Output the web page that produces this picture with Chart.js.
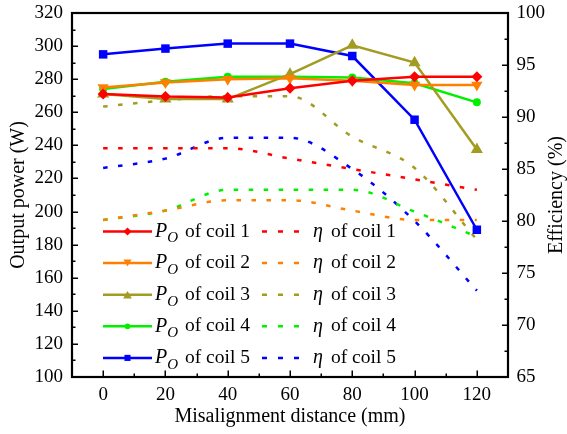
<!DOCTYPE html>
<html>
<head>
<meta charset="utf-8">
<script src="https://cdn.jsdelivr.net/npm/chart.js@4.4.1/dist/chart.umd.min.js"></script>
<style>
  html, body { margin: 0; padding: 0; background: #fff; }
  #wrap { width: 567px; height: 434px; position: relative; }
</style>
</head>
<body>
<div id="wrap"><canvas id="c" width="567" height="434"></canvas></div>
<script>
// ---- data ----
const distances = [0, 20, 40, 60, 80, 100, 120];
const xTicks = [0, 20, 40, 60, 80, 100, 120];
const coilNames = ['coil 1', 'coil 2', 'coil 3', 'coil 4', 'coil 5'];

const powerCoil1 = [271, 269.5, 269, 274.5, 279, 281.5, 281.5];
const powerCoil2 = [275, 278, 280, 280.5, 279, 276.5, 276.5];
const powerCoil3 = [271, 268, 268, 283, 300.5, 290, 237.5];
const powerCoil4 = [274, 278.5, 281.5, 281.5, 281, 277.5, 266];
const powerCoil5 = [295, 298.5, 301.5, 301.5, 294, 255.5, 189];

const effCoil1 = [87.0, 87.0, 87.0, 86.0, 85.0, 84.0, 83.0];
const effCoil2 = [80.1, 81.0, 82.0, 82.0, 81.0, 80.1, 80.1];
const effCoil3 = [91.0, 91.6, 92.0, 92.0, 88.1, 85.1, 78.2];
const effCoil4 = [80.1, 81.0, 83.0, 83.0, 83.0, 80.9, 78.5];
const effCoil5 = [85.1, 86.0, 88.0, 88.0, 85.0, 80.0, 73.3];

const colors = ['#FF0000', '#FF8000', '#A29C22', '#00F000', '#0000FF'];
const pointStyles = ['rectRot', 'triangle', 'triangle', 'circle', 'rect'];
const pointRotations = [0, 180, 0, 0, 0];
const pointRadii = [5.5, 6.5, 7, 4, 6];

const FONT = '"Liberation Serif", "Times New Roman", Times, "DejaVu Serif", serif';

const powers = [powerCoil1, powerCoil2, powerCoil3, powerCoil4, powerCoil5];
const effs = [effCoil1, effCoil2, effCoil3, effCoil4, effCoil5];

const toXY = arr => arr.map((v, i) => ({ x: distances[i], y: v }));

const datasets = [];
powers.forEach((p, i) => {
  datasets.push({
    label: 'Po of ' + coilNames[i],
    data: toXY(p),
    yAxisID: 'y',
    borderColor: colors[i],
    backgroundColor: colors[i],
    borderWidth: 2.5,
    pointStyle: pointStyles[i],
    rotation: pointRotations[i],
    pointRadius: pointRadii[i],
    pointHoverRadius: pointRadii[i],
    pointBorderWidth: 0,
    tension: 0
  });
});
effs.forEach((e, i) => {
  datasets.push({
    label: 'η of ' + coilNames[i],
    data: toXY(e),
    yAxisID: 'y1',
    borderColor: colors[i],
    backgroundColor: colors[i],
    borderWidth: 2.5,
    borderDash: [4.5, 10.5],
    pointRadius: 0,
    cubicInterpolationMode: 'monotone'
  });
});

function drawMarker(ctx, style, rot, x, y, r) {
  ctx.save();
  ctx.translate(x, y);
  ctx.rotate(rot * Math.PI / 180);
  ctx.beginPath();
  if (style === 'circle') {
    ctx.arc(0, 0, r, 0, Math.PI * 2);
  } else if (style === 'rect') {
    const s = r * Math.SQRT1_2;
    ctx.rect(-s, -s, 2 * s, 2 * s);
  } else if (style === 'rectRot') {
    ctx.moveTo(0, -r); ctx.lineTo(r, 0); ctx.lineTo(0, r); ctx.lineTo(-r, 0); ctx.closePath();
  } else if (style === 'triangle') {
    for (let k = 0; k < 3; k++) {
      const ang = -Math.PI / 2 + k * 2 * Math.PI / 3;
      const px = r * Math.cos(ang), py = r * Math.sin(ang) + r * 0.25;
      if (k === 0) ctx.moveTo(px, py); else ctx.lineTo(px, py);
    }
    ctx.closePath();
  }
  ctx.fill();
  ctx.restore();
}

// ---- plugin: frame, inward ticks, right title, legend ----
const decor = {
  id: 'decor',
  afterDatasetsDraw(chart) {
    const ctx = chart.ctx;
    const a = chart.chartArea;
    const sx = chart.scales.x, sy = chart.scales.y, sy1 = chart.scales.y1;
    ctx.save();
    ctx.strokeStyle = '#000';
    ctx.lineCap = 'butt';
    ctx.lineWidth = 1.5;
    ctx.beginPath();
    for (let v = 100; v <= 320; v += 10) {
      const y = Math.round(sy.getPixelForValue(v)) + 0.25;
      const len = (v % 20 === 0) ? 6 : 3.5;
      ctx.moveTo(a.left, y); ctx.lineTo(a.left + len, y);
    }
    for (let v = 65; v <= 100; v += 2.5) {
      const y = Math.round(sy1.getPixelForValue(v)) + 0.25;
      const len = (Math.abs(v % 5) < 0.01) ? 6 : 3.5;
      ctx.moveTo(a.right, y); ctx.lineTo(a.right - len, y);
    }
    for (let v = -10; v <= 130; v += 10) {
      const x = Math.round(sx.getPixelForValue(v)) + 0.25;
      const len = (v % 20 === 0) ? 6.5 : 3.5;
      ctx.moveTo(x, a.bottom); ctx.lineTo(x, a.bottom - len);
    }
    ctx.stroke();
    ctx.lineWidth = 2.2;
    ctx.strokeRect(a.left, a.top, a.right - a.left, a.bottom - a.top);

    ctx.fillStyle = '#000';
    ctx.font = '20px ' + FONT;
    ctx.textAlign = 'center';
    ctx.textBaseline = 'middle';
    ctx.translate(557, (a.top + a.bottom) / 2);
    ctx.rotate(-Math.PI / 2);
    ctx.fillText('Efficiency (%)', 0, 0);
    ctx.restore();

    ctx.save();
    const y0 = 231.5, step = 31.6;
    coilNames.forEach((name, i) => {
      const y = y0 + step * i;
      const col = colors[i];
      ctx.strokeStyle = col; ctx.fillStyle = col;
      ctx.lineWidth = 2.5; ctx.setLineDash([]);
      ctx.beginPath(); ctx.moveTo(103, y); ctx.lineTo(152, y); ctx.stroke();
      drawMarker(ctx, pointStyles[i], pointRotations[i], 127.5, y, pointRadii[i] * 0.72);
      ctx.setLineDash([5, 11]);
      ctx.beginPath(); ctx.moveTo(262, y); ctx.lineTo(299, y); ctx.stroke();
      ctx.setLineDash([]);
      ctx.fillStyle = '#000';
      ctx.textAlign = 'left';
      ctx.textBaseline = 'middle';
      ctx.font = 'italic 20px ' + FONT;
      ctx.fillText('P', 155, y);
      const wP = ctx.measureText('P').width;
      ctx.font = 'italic 15px ' + FONT;
      ctx.fillText('O', 155 + wP, y + 7);
      ctx.font = '19.5px ' + FONT;
      ctx.fillText('of ' + name, 185, y);
      ctx.font = 'italic 20px ' + FONT;
      ctx.fillText('η', 313, y);
      ctx.font = '19.5px ' + FONT;
      ctx.fillText('of ' + name, 331, y);
    });
    ctx.restore();
  }
};

const noVPad = s => { s.paddingTop = 0; s.paddingBottom = 0; };

function build() {
  new Chart(document.getElementById('c'), {
    type: 'line',
    data: { datasets },
    plugins: [decor],
    options: {
      responsive: false,
      animation: false,
      events: [],
      layout: { padding: { top: 13, left: 0, right: 0, bottom: 0 } },
      plugins: { legend: { display: false }, tooltip: { enabled: false } },
      scales: {
        x: {
          type: 'linear',
          min: -10, max: 130,
          afterBuildTicks: s => { s.ticks = xTicks.map(v => ({ value: v })); },
          afterFit: s => { s.height = 57; s.paddingLeft = 0; s.paddingRight = 0; },
          grid: { display: false, drawTicks: false },
          border: { display: false },
          ticks: { color: '#000', padding: 7, font: { family: FONT, size: 19 }, maxRotation: 0 },
          title: { display: true, text: 'Misalignment distance (mm)', color: '#000',
                   font: { family: FONT, size: 20 }, padding: { top: 0, bottom: 5 } }
        },
        y: {
          position: 'left',
          min: 100, max: 320,
          ticks: { stepSize: 20, color: '#000', padding: 9, font: { family: FONT, size: 19 } },
          afterFit: s => { s.width = 72; noVPad(s); },
          grid: { display: false, drawTicks: false },
          border: { display: false },
          title: { display: true, text: 'Output power (W)', color: '#000',
                   font: { family: FONT, size: 20 }, padding: { top: 7, bottom: 0 } }
        },
        y1: {
          position: 'right',
          min: 65, max: 100,
          ticks: { stepSize: 5, color: '#000', padding: 8.5, font: { family: FONT, size: 19 } },
          afterFit: s => { s.width = 59; noVPad(s); },
          grid: { display: false, drawTicks: false },
          border: { display: false }
        }
      }
    }
  });
}

if (document.fonts && document.fonts.load) {
  Promise.all([
    document.fonts.load('20px "Liberation Serif"'),
    document.fonts.load('italic 20px "Liberation Serif"')
  ]).then(build, build);
} else {
  build();
}
</script>
</body>
</html>
